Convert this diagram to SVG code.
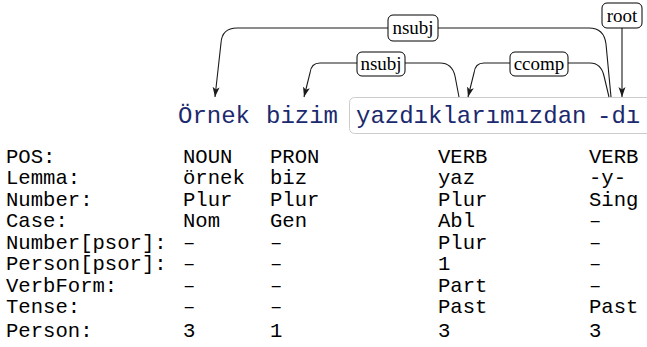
<svg xmlns="http://www.w3.org/2000/svg" width="647" height="347" viewBox="0 0 647 347">
<style>
.word{font-family:"Liberation Mono","DejaVu Sans Mono",monospace;font-size:24px;fill:#1b2a6e}
.lab{font-family:"Liberation Serif","Times New Roman",serif;font-size:19px;fill:#000;text-anchor:middle}
.lbox{fill:#fff;stroke:#000;stroke-width:1}
.edge{fill:none;stroke:#1a1a1a;stroke-width:1.1}
.tab{font-family:"Liberation Mono","DejaVu Sans Mono",monospace;font-size:20.6px;fill:#000}
</style>
<defs>
<marker id="ah" markerUnits="userSpaceOnUse" markerWidth="12" markerHeight="10" refX="10" refY="4" orient="auto">
<path d="M0,0.5 L10,4 L0,7.5 L2.5,4 Z" fill="#1a1a1a"/>
</marker>
</defs>
<rect id="highlight" x="349.5" y="97.5" width="320" height="36" rx="5" fill="#fff" stroke="#cccccc" stroke-width="1"/>
<g id="connectors">
<path class="edge" d="M611,97 L606,44 Q604,28 589,28 L237,28 Q222,28 221,43 L215,97" marker-end="url(#ah)"/>
<path class="edge" d="M459,97 L455,76 Q452,63 440,63 L320,63 Q311,63 310,73 L304,97" marker-end="url(#ah)"/>
<path class="edge" d="M609,97 L604,76 Q601,63 590,63 L484,63 Q475,63 474,73 L468,97" marker-end="url(#ah)"/>
<path class="edge" d="M622,28 L622,97" marker-end="url(#ah)"/>
<rect class="lbox" x="388" y="15" width="50" height="26" rx="5"/>
<text class="lab" x="413" y="34">nsubj</text>
<rect class="lbox" x="357" y="52" width="48" height="24" rx="5"/>
<text class="lab" x="381" y="69.5">nsubj</text>
<rect class="lbox" x="510" y="52" width="58" height="24" rx="5"/>
<text class="lab" x="539" y="69.5">ccomp</text>
<rect class="lbox" x="602" y="3" width="40" height="25" rx="5"/>
<text class="lab" x="622" y="21.5">root</text>
</g>
<g id="w-ornek"><text class="word" x="178" y="123">Örnek</text></g>
<g id="w-bizim"><text class="word" x="266" y="123">bizim</text></g>
<g id="w-yazdiklarimizdan"><text class="word" x="356" y="123">yazdıklarımızdan</text></g>
<g id="w-di"><text class="word" x="597" y="123">-dı</text></g>
<g id="table" class="tab">
<text x="6" y="163">POS:</text>
<text x="6" y="184.4">Lemma:</text>
<text x="6" y="205.9">Number:</text>
<text x="6" y="227.3">Case:</text>
<text x="6" y="248.7">Number[psor]:</text>
<text x="6" y="270.1">Person[psor]:</text>
<text x="6" y="291.6">VerbForm:</text>
<text x="6" y="313">Tense:</text>
<text x="6" y="337">Person:</text>
<text x="183" y="163">NOUN</text>
<text x="183" y="184.4">örnek</text>
<text x="183" y="205.9">Plur</text>
<text x="183" y="227.3">Nom</text>
<text x="183" y="248.7">–</text>
<text x="183" y="270.1">–</text>
<text x="183" y="291.6">–</text>
<text x="183" y="313">–</text>
<text x="183" y="337">3</text>
<text x="270" y="163">PRON</text>
<text x="270" y="184.4">biz</text>
<text x="270" y="205.9">Plur</text>
<text x="270" y="227.3">Gen</text>
<text x="270" y="248.7">–</text>
<text x="270" y="270.1">–</text>
<text x="270" y="291.6">–</text>
<text x="270" y="313">–</text>
<text x="270" y="337">1</text>
<text x="438" y="163">VERB</text>
<text x="438" y="184.4">yaz</text>
<text x="438" y="205.9">Plur</text>
<text x="438" y="227.3">Abl</text>
<text x="438" y="248.7">Plur</text>
<text x="438" y="270.1">1</text>
<text x="438" y="291.6">Part</text>
<text x="438" y="313">Past</text>
<text x="438" y="337">3</text>
<text x="589" y="163">VERB</text>
<text x="589" y="184.4">-y-</text>
<text x="589" y="205.9">Sing</text>
<text x="589" y="227.3">–</text>
<text x="589" y="248.7">–</text>
<text x="589" y="270.1">–</text>
<text x="589" y="291.6">–</text>
<text x="589" y="313">Past</text>
<text x="589" y="337">3</text>
</g>
</svg>
